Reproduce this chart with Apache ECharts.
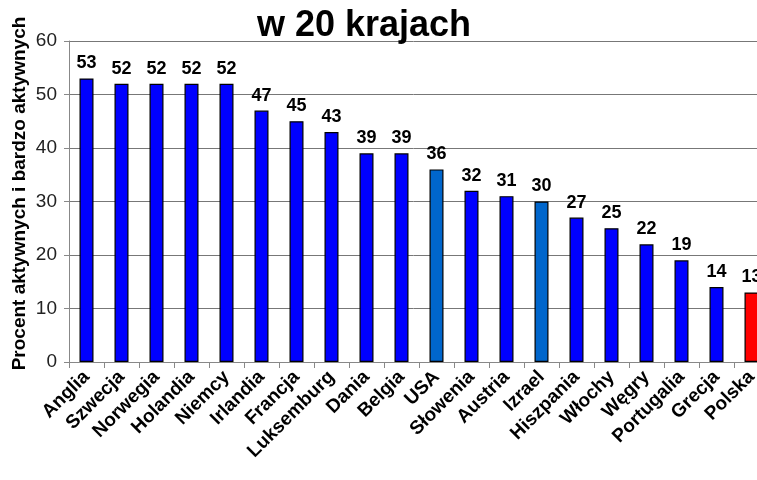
<!DOCTYPE html>
<html>
<head>
<meta charset="utf-8">
<script src="https://cdn.jsdelivr.net/npm/echarts@6/dist/echarts.min.js"></script>
<style>html,body{margin:0;padding:0;background:#fff}#c{width:757px;height:480px}</style>
</head>
<body>
<div id="c"></div>
<script>
const categories = ["Anglia","Szwecja","Norwegia","Holandia","Niemcy","Irlandia","Francja","Luksemburg","Dania","Belgia","USA","Słowenia","Austria","Izrael","Hiszpania","Włochy","Węgry","Portugalia","Grecja","Polska"];
const values = [53,52,52,52,52,47,45,43,39,39,36,32,31,30,27,25,22,19,14,13];
const barColors = ["#0000FF","#0000FF","#0000FF","#0000FF","#0000FF","#0000FF","#0000FF","#0000FF","#0000FF","#0000FF","#0066CC","#0000FF","#0000FF","#0066CC","#0000FF","#0000FF","#0000FF","#0000FF","#0000FF","#FF0000"];
const yTicks = [0,10,20,30,40,50,60];
const titleText = "w 20 krajach";
const yName = "Procent aktywnych i bardzo aktywnych";

const chart = echarts.init(document.getElementById('c'), null, {renderer:'canvas'});
const font = 'Liberation Sans, Arial, sans-serif';
chart.setOption({
  animation: false,
  backgroundColor: '#fff',
  title: {
    text: titleText, left: 359, top: 3, textAlign: 'center',
    textStyle: {fontFamily: font, fontSize: 36, fontWeight: 'bold', color: '#000'}
  },
  grid: {left: 69, top: 41, width: 700, bottom: 118, containLabel: false, outerBoundsMode: 'none'},
  xAxis: {
    type: 'category', data: categories,
    axisLine: {lineStyle: {color: '#888', width: 1}},
    axisTick: {show: true, alignWithLabel: false, interval: 0, length: 6, lineStyle: {color: '#888'}},
    axisLabel: {interval: 0, rotate: 45, margin: 12, color: '#000', fontFamily: font, fontSize: 19, fontWeight: 'bold'}
  },
  yAxis: {
    type: 'value', min: 0, max: 60, interval: 10,
    name: yName, nameLocation: 'middle', nameGap: 40, nameMoveOverlap: false,
    nameTextStyle: {fontFamily: font, fontSize: 19, fontWeight: 'bold', color: '#000', padding: [0,0,0,16]},
    axisLine: {show: true, lineStyle: {color: '#888'}},
    axisTick: {show: true, length: 5, lineStyle: {color: '#888'}},
    axisLabel: {margin: 12, color: '#222', fontFamily: font, fontSize: 19,
      formatter: v => yTicks.includes(v) ? String(v) : ''},
    splitLine: {show: true, lineStyle: {color: '#777', width: 1}}
  },
  series: [{
    type: 'bar', barWidth: 14,
    data: values.map((v, i) => ({value: v, itemStyle: {color: barColors[i]}})),
    itemStyle: {borderColor: '#000', borderWidth: 1.2},
    label: {show: true, position: 'top', distance: 6, color: '#000', fontFamily: font, fontSize: 18, fontWeight: 'bold'}
  }]
});
</script>
</body>
</html>
